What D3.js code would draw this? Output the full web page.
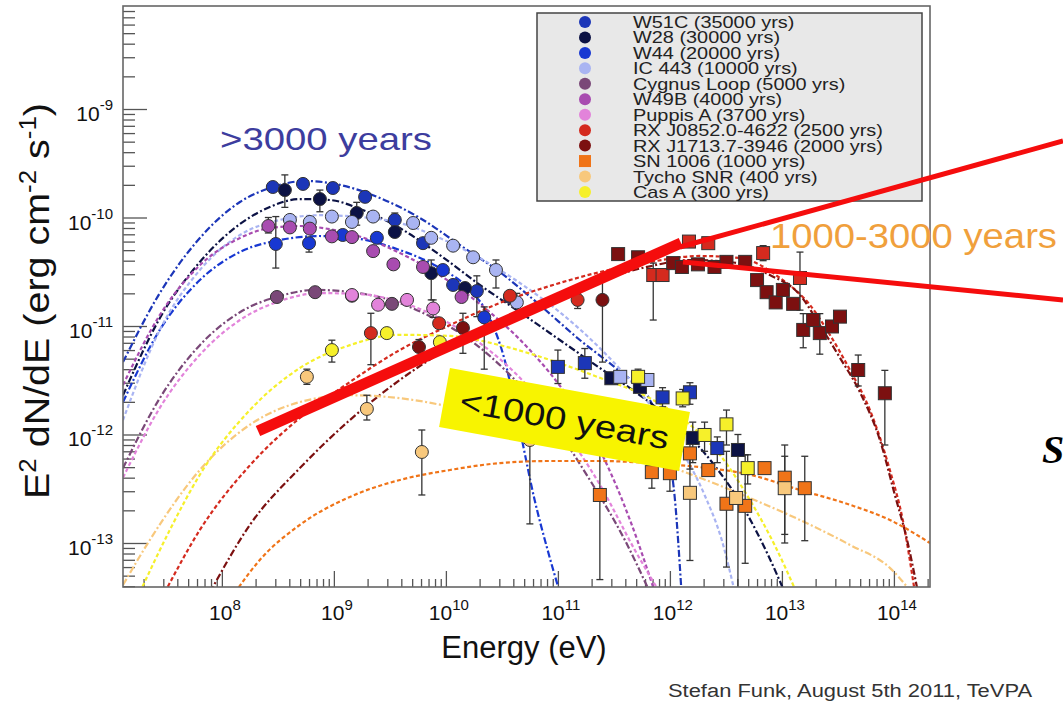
<!DOCTYPE html>
<html lang="en">
<head>
<meta charset="UTF-8">
<title>SNR spectra</title>
<script src="https://cdn.jsdelivr.net/npm/d3@7"></script>
<style>
  body { margin: 0; background: #fff; }
  text { font-family: "Liberation Sans", Arial, sans-serif; }
</style>
</head>
<body>
<div id="chart"></div>
<script>

// ---- data: [E (eV), E^2 dN/dE, errHigh, errLow] ----
const w51cGeV = [[2.85e8,1.91e-10],[5.3e8,2.04e-10],[9.8e8,1.87e-10],[1.9e9,1.55e-10],[3.5e9,9.5e-11,1.1e-10,8.2e-11],[6.25e9,5.8e-11],[1.16e10,2.39e-11],[1.89e10,2.1e-11,2.9e-11,1.22e-11],[3.73e10,1.85e-11]];
const w51cTeV = [[1.0e11,4.2e-12,6.0e-12,2.95e-12],[1.74e11,4.55e-12,6.2e-12,3.3e-12],[8.6e11,2.2e-12,2.7e-12,1.8e-12],[1.51e12,2.45e-12,3.0e-12,1.9e-12],[2.65e12,7.5e-13,9.5e-13,5.5e-13]];
const w51cModel = [[1.31e7,4.65e-12],[2.79e7,2.01e-11],[6.36e7,6.47e-11],[1.45e8,1.39e-10],[2.85e8,1.91e-10],[5.5e8,2.17e-10],[1.13e9,2.0e-10],[2.58e9,1.51e-10],[5.86e9,9.9e-11],[1.33e10,5.58e-11],[3.03e10,3.14e-11],[6.9e10,1.56e-11],[1.57e11,7.43e-12],[3.58e11,3.8e-12],[6.63e11,2.08e-12],[8.98e11,8.89e-13],[1.11e12,2.49e-13],[1.27e12,3.5e-14]];

const w28GeV = [[3.65e8,1.79e-10,2.47e-10,1.24e-10],[7.5e8,1.48e-10,1.79e-10,1.13e-10],[1.6e9,1.1e-10,1.38e-10,8.5e-11],[3.5e9,7.35e-11],[7.4e9,3.07e-11,4.06e-11,1.74e-11],[1.48e10,2.24e-11]];
const w28TeV = [[3.0e11,3.3e-12],[5.4e11,2.75e-12],[1.6e12,9.3e-13,1.3e-12,5.5e-13],[4.05e12,7.2e-13,1.0e-12,3.0e-14]];
const w28Model = [[1.31e7,2.3e-12],[2.79e7,1.18e-11],[6.36e7,3.89e-11],[1.45e8,8.7e-11],[2.68e8,1.25e-10],[4.97e8,1.48e-10],[9.2e8,1.45e-10],[1.71e9,1.2e-10],[3.88e9,8.0e-11],[8.84e9,4.51e-11],[2.01e10,2.39e-11],[4.58e10,1.34e-11],[1.04e11,7.43e-12],[2.37e11,4.1e-12],[5.4e11,2.3e-12],[1.23e12,1.16e-12],[2.5e12,5.2e-13],[4.67e12,2.01e-13],[7.5e12,7.8e-14],[1.06e13,3.5e-14]];

const w44GeV = [[3.03e8,5.7e-11,1.02e-10,3.42e-11],[6.0e8,5.8e-11,6.5e-11,4.8e-11],[1.2e9,6.9e-11],[2.42e9,6.5e-11],[9.4e9,3.28e-11],[2.2e10,1.2e-11,1.5e-11,4.0e-12]];
const w44Model = [[1.31e7,1.99e-12],[2.79e7,9.2e-12],[6.36e7,2.65e-11],[1.45e8,4.81e-11],[3.3e8,6.2e-11],[7.5e8,6.75e-11],[1.71e9,6.34e-11],[3.88e9,5.01e-11],[8.84e9,3.42e-11],[1.64e10,2.15e-11],[2.47e10,1.18e-11],[3.35e10,4.86e-12],[4.58e10,1.1e-12],[6.2e10,2.49e-13],[8.1e10,8.6e-14],[1.04e11,3.5e-14]];

const ic443GeV = [[4.05e8,9.5e-11],[6.1e8,9.1e-11],[9.6e8,1.02e-10],[1.45e9,9.1e-11],[2.24e9,1.02e-10],[5.1e9,8.9e-11],[7.4e9,6.5e-11],[1.16e10,5.5e-11],[1.75e10,4.3e-11],[2.8e10,3.28e-11,4.06e-11,2.24e-11],[4.3e10,1.65e-11,2.0e-11,1.3e-11]];
const ic443TeV = [[3.6e11,3.4e-12],[6.3e11,3.18e-12]];
const ic443Model = [[1.31e7,1.36e-12],[2.79e7,9.2e-12],[6.36e7,3.28e-11],[1.45e8,6.9e-11],[3.3e8,9.5e-11],[7.5e8,1.05e-10],[1.71e9,1.01e-10],[3.88e9,8.9e-11],[8.84e9,6.47e-11],[2.01e10,4.23e-11],[4.58e10,2.49e-11],[1.04e11,1.34e-11],[2.37e11,6.25e-12],[5.4e11,2.46e-12],[1.11e12,8.89e-13],[2.04e12,2.77e-13],[2.9e12,1.07e-13],[3.8e12,3.5e-14]];

const cygGeV = [[3.1e8,1.85e-11],[6.8e8,2.05e-11],[1.45e9,1.9e-11],[3.3e9,1.6e-11]];
const cygModel = [[1.31e7,4.9e-13],[2.79e7,2.16e-12],[6.36e7,6.66e-12],[1.45e8,1.34e-11],[3.3e8,1.89e-11],[6.8e8,2.15e-11],[1.39e9,2.06e-11],[3.16e9,1.74e-11],[7.2e9,1.23e-11],[1.64e10,7.43e-12],[3.73e10,3.55e-12],[8.5e10,1.36e-12],[1.93e11,3.81e-13],[3.95e11,1.07e-13],[6.63e11,3.5e-14]];

const w49bGeV = [[2.6e8,8.35e-11,1.0e-10,7.2e-11],[4.05e8,8.1e-11],[6.1e8,7.9e-11],[9.6e8,6.7e-11],[1.45e9,6.6e-11],[2.24e9,4.9e-11],[3.4e9,3.7e-11],[6.25e9,3.5e-11],[1.38e10,1.85e-11]];
const w49bModel = [[1.31e7,2.86e-12],[2.79e7,1.26e-11],[6.36e7,3.63e-11],[1.45e8,6.47e-11],[2.68e8,8.0e-11],[4.97e8,8.35e-11],[9.2e8,7.8e-11],[2.1e9,6.2e-11],[4.77e9,4.23e-11],[1.09e10,2.54e-11],[2.47e10,1.34e-11],[5.62e10,6.01e-12],[1.28e11,2.08e-12],[2.62e11,5.82e-13],[4.4e11,1.63e-13],[7.35e11,3.5e-14]];

const puppisGeV = [[1.45e9,1.93e-11,2.1e-11,1.75e-11],[2.48e9,1.57e-11],[4.5e9,1.74e-11],[7.7e9,1.45e-11,1.74e-11,1.2e-11]];
const puppisModel = [[1.31e7,4.0e-13],[2.79e7,1.76e-12],[6.36e7,5.43e-12],[1.45e8,1.135e-11],[3.3e8,1.7e-11],[7.5e8,2.01e-11],[1.71e9,1.97e-11],[3.88e9,1.67e-11],[8.84e9,1.18e-11],[2.01e10,6.96e-12],[4.58e10,3.33e-12],[1.04e11,1.23e-12],[2.37e11,3.45e-13],[4.87e11,8.6e-14],[8.1e11,3.5e-14]];

const velaJrGeV = [[2.14e9,8.6e-12,1.31e-11,4.4e-12],[8.7e9,1.06e-11],[3.73e10,1.9e-11,2.1e-11,1.7e-11],[1.5e11,1.74e-11,2.0e-11,1.45e-11]];
const velaJrTeV = [[7.1e11,2.95e-11,3.8e-11,1.135e-11],[8.6e11,2.95e-11],[1.48e12,6.0e-11],[2.2e12,5.8e-11],[6.8e12,4.7e-11,5.5e-11,4.0e-11],[1.45e13,2.77e-11,4.8e-11,1.4e-11]];
const velaJrModel = [[3.09e7,3.5e-14],[6.36e7,1.32e-13],[1.78e8,5.2e-13],[4.97e8,1.42e-12],[1.39e9,3.05e-12],[3.88e9,6.01e-12],[1.09e10,1.02e-11],[3.03e10,1.63e-11],[8.5e10,2.34e-11],[2.37e11,3.14e-11],[6.63e11,3.89e-11],[1.85e12,4.42e-11],[4.22e12,4.23e-11],[9.6e12,2.77e-11],[1.78e13,1.56e-11],[2.68e13,8.3e-12],[4.05e13,3.93e-12],[6.11e13,1.68e-12],[9.2e13,4.71e-13],[1.2e14,1.63e-13],[1.54e14,3.5e-14]];

const rxj1713GeV = [[5.75e9,6.4e-12,7.5e-12,4.86e-12],[1.42e10,9.6e-12,1.31e-11,5.6e-12],[2.5e11,1.74e-11,2.75e-11,4.65e-12]];
const rxj1713TeV = [[3.45e11,4.6e-11],[5.2e11,4.3e-11],[1.07e12,3.8e-11],[1.28e12,3.5e-11],[1.78e12,3.7e-11],[2.5e12,3.5e-11],[3.2e12,3.9e-11],[4.7e12,3.9e-11],[6.0e12,2.65e-11],[7.3e12,2.05e-11],[8.8e12,1.65e-11],[1.02e13,2.15e-11],[1.26e13,1.6e-11],[1.55e13,9.2e-12,1.3e-11,6.3e-12],[1.9e13,1.135e-11],[2.18e13,8.6e-12,1.3e-11,5.5e-12],[2.8e13,9.9e-12],[3.3e13,1.22e-11],[4.8e13,3.93e-12,5.4e-12,2.8e-12],[8.3e13,2.4e-12,3.9e-12,8.0e-13]];
const rxj1713Model = [[7.82e7,3.5e-14],[1.78e8,1.47e-13],[4.97e8,4.9e-13],[1.39e9,1.36e-12],[3.88e9,3.18e-12],[1.09e10,6.39e-12],[3.03e10,1.135e-11],[8.5e10,1.81e-11],[2.37e11,2.65e-11],[6.63e11,3.55e-11],[1.51e12,4.06e-11],[3.43e12,3.89e-11],[7.8e12,2.95e-11],[1.45e13,1.93e-11],[2.18e13,1.02e-11],[3.3e13,5.09e-12],[4.97e13,2.46e-12],[7.5e13,8.89e-13],[1.02e14,2.77e-13],[1.31e14,1.07e-13],[1.64e14,3.5e-14]];

const sn1006TeV = [[2.37e11,2.77e-13,1.1e-12,4.6e-14],[6.9e11,4.5e-13,5.8e-13,3.2e-13],[1.0e12,4.4e-13,5.5e-13,3.0e-13],[1.51e12,6.7e-13,8.9e-13,4.8e-13],[2.2e12,4.7e-13],[3.2e12,2.3e-13,7.0e-13,6.0e-14],[4.7e12,2.2e-13,6.5e-13,6.5e-14],[7.0e12,4.9e-13],[1.06e13,4.0e-13,8.0e-13,1.0e-13],[1.6e13,3.2e-13,6.3e-13,1.05e-13]];
const sn1006Model = [[1.31e8,3.5e-14],[2.18e8,6.97e-14],[4.97e8,1.47e-13],[1.39e9,2.66e-13],[3.88e9,3.81e-13],[1.09e10,4.71e-13],[3.03e10,5.45e-13],[8.5e10,5.7e-13],[2.37e11,5.7e-13],[6.63e11,5.45e-13],[1.85e12,5.0e-13],[5.18e12,4.26e-13],[1.45e13,3.08e-13],[4.05e13,2.25e-13],[9.2e13,1.63e-13],[2.1e14,1.0e-13]];

const tychoGeV = [[5.74e8,3.4e-12,4.0e-12,2.9e-12],[1.97e9,1.72e-12,2.3e-12,1.36e-12],[6.1e9,6.9e-13,1.1e-12,2.77e-13],[5.62e10,8.9e-13,1.2e-12,1.5e-13]];
const tychoTeV = [[1.51e12,2.9e-13,7.2e-13,6.9e-14],[3.9e12,2.6e-13],[1.06e13,3.2e-13,6.3e-13,1.2e-13]];
const tychoModel = [[1.31e7,4.1e-14],[2.28e7,1.07e-13],[6.36e7,4.71e-13],[1.78e8,1.23e-12],[4.97e8,1.99e-12],[1.39e9,2.3e-12],[3.88e9,2.16e-12],[1.09e10,1.8e-12],[3.03e10,1.36e-12],[8.5e10,1.05e-12],[2.37e11,8.0e-13],[6.63e11,5.82e-13],[1.85e12,4.0e-13],[5.18e12,2.6e-13],[1.45e13,1.63e-13],[4.05e13,9.6e-14],[9.2e13,5.9e-14],[1.44e14,3.5e-14]];

const casAGeV = [[9.6e8,6.0e-12,7.4e-12,4.65e-12],[2.97e9,8.6e-12],[8.84e9,7.1e-12]];
const casATeV = [[5.2e11,3.4e-12,4.0e-12,2.9e-12],[1.3e12,2.15e-12,2.6e-12,1.8e-12],[2.04e12,9.9e-13,1.3e-12,7.0e-13],[3.2e12,1.24e-12,1.68e-12,8.0e-13],[4.95e12,4.9e-13,6.5e-13,3.5e-13]];
const casAModel = [[1.85e7,3.5e-14],[3.43e7,1.32e-13],[6.36e7,4.26e-13],[1.78e8,1.68e-12],[4.97e8,4.1e-12],[1.39e9,6.66e-12],[3.88e9,8.3e-12],[1.09e10,8.1e-12],[3.03e10,6.66e-12],[8.5e10,4.86e-12],[2.37e11,3.33e-12],[6.63e11,2.16e-12],[1.51e12,1.23e-12],[2.79e12,6.5e-13],[5.18e12,2.49e-13],[8.6e12,9.6e-14],[1.35e13,3.5e-14]];

// legend labels
const legendNames = ["W51C (35000 yrs)","W28 (30000 yrs)","W44 (20000 yrs)","IC 443 (10000 yrs)","Cygnus Loop (5000 yrs)","W49B (4000 yrs)","Puppis A (3700 yrs)","RX J0852.0-4622 (2500 yrs)","RX J1713.7-3946 (2000 yrs)","SN 1006 (1000 yrs)","Tycho SNR (400 yrs)","Cas A (300 yrs)"];

// axis tick labels (exponents)
const xTickVals = [1e8,1e9,1e10,1e11,1e12,1e13,1e14];
const xTickExp = ["8","9","10","11","12","13","14"];
const yTickVals = [1e-9,1e-10,1e-11,1e-12,1e-13];
const yTickExp = ["-9","-10","-11","-12","-13"];

// ---- setup ----
const dashA = "4,2.5";          // dotted-ish
const dashB = "7,2.5,2,2.5";    // dash-dot

const series = [
  {name: legendNames[0], color:"#1c36b8", gev:w51cGeV, tev:w51cTeV, model:w51cModel, dash:dashB},
  {name: legendNames[1], color:"#0c1244", gev:w28GeV, tev:w28TeV, model:w28Model, dash:dashB},
  {name: legendNames[2], color:"#1838d2", gev:w44GeV, tev:[], model:w44Model, dash:dashB},
  {name: legendNames[3], color:"#a9b4f2", gev:ic443GeV, tev:ic443TeV, model:ic443Model, dash:dashA},
  {name: legendNames[4], color:"#7a4878", gev:cygGeV, tev:[], model:cygModel, dash:dashB},
  {name: legendNames[5], color:"#a84cb0", gev:w49bGeV, tev:[], model:w49bModel, dash:dashA},
  {name: legendNames[6], color:"#e283da", gev:puppisGeV, tev:[], model:puppisModel, dash:dashA},
  {name: legendNames[7], color:"#d42a1e", gev:velaJrGeV, tev:velaJrTeV, model:velaJrModel, dash:dashA},
  {name: legendNames[8], color:"#7c1010", gev:rxj1713GeV, tev:rxj1713TeV, model:rxj1713Model, dash:dashB},
  {name: legendNames[9], color:"#f07418", gev:[], tev:sn1006TeV, model:sn1006Model, dash:dashA, square:true},
  {name: legendNames[10], color:"#f8c87c", gev:tychoGeV, tev:tychoTeV, model:tychoModel, dash:dashB},
  {name: legendNames[11], color:"#f6f02a", gev:casAGeV, tev:casATeV, model:casAModel, dash:dashA}
];

const W = 1063, H = 703;
const pl = 123, pr = 930, pt = 6, pb = 587;

const svg = d3.select("#chart").append("svg")
  .attr("width", W).attr("height", H)
  .style("display", "block");

svg.append("rect").attr("width", W).attr("height", H).attr("fill", "#fff");

const x = d3.scaleLog().domain([1.31e7, 2.1e14]).range([pl, pr]);
const y = d3.scaleLog().domain([3.93e-14, 8.9e-9]).range([pb, pt]);

svg.append("defs").append("clipPath").attr("id", "clip")
  .append("rect").attr("x", pl).attr("y", pt).attr("width", pr - pl).attr("height", pb - pt);

// minor ticks
function minorTicks(lo, hi) {
  const out = [];
  for (let p = Math.floor(Math.log10(lo)); p <= Math.ceil(Math.log10(hi)); p++) {
    for (let m = 2; m <= 9; m++) {
      const v = m * Math.pow(10, p);
      if (v > lo && v < hi) out.push(v);
    }
  }
  return out;
}

const axisColor = "#555";

// x axis ticks (pointing up into the plot)
const gx = svg.append("g").attr("transform", "translate(0," + pb + ")");
gx.append("g").call(d3.axisBottom(x).tickValues(minorTicks(1.31e7, 2.1e14)).tickSize(-8).tickFormat(""));
gx.append("g").call(d3.axisBottom(x).tickValues(xTickVals).tickSize(-16).tickFormat(""));
gx.selectAll(".domain").remove();
gx.selectAll("line").attr("stroke", axisColor).attr("stroke-width", 1.3);

// y axis ticks (pointing right into the plot)
const gy = svg.append("g").attr("transform", "translate(" + pl + ",0)");
gy.append("g").call(d3.axisLeft(y).tickValues(minorTicks(3.93e-14, 8.9e-9)).tickSize(-12).tickFormat(""));
gy.append("g").call(d3.axisLeft(y).tickValues(yTickVals).tickSize(-24).tickFormat(""));
gy.selectAll(".domain").remove();
gy.selectAll("line").attr("stroke", axisColor).attr("stroke-width", 1.3);

// tick labels
xTickVals.forEach((v, i) => {
  const t = svg.append("text")
    .attr("x", x(v) + 3).attr("y", 620)
    .attr("text-anchor", "middle")
    .attr("font-size", 21).attr("fill", "#111");
  t.append("tspan").text("10");
  t.append("tspan").attr("dy", -10).attr("font-size", 15).text(xTickExp[i]);
});
yTickVals.forEach((v, i) => {
  const t = svg.append("text")
    .attr("x", 113).attr("y", y(v) + 12)
    .attr("text-anchor", "end")
    .attr("font-size", 21).attr("fill", "#111");
  t.append("tspan").text("10");
  t.append("tspan").attr("dy", -11).attr("font-size", 15).text(yTickExp[i]);
});

// axis titles
svg.append("text")
  .attr("x", 524).attr("y", 658)
  .attr("text-anchor", "middle")
  .attr("font-size", 31).attr("fill", "#111")
  .text("Energy (eV)");

const yt = svg.append("text")
  .attr("transform", "translate(49,301) rotate(-90)")
  .attr("text-anchor", "middle")
  .attr("font-size", 35).attr("fill", "#111")
  .attr("textLength", 396).attr("lengthAdjust", "spacingAndGlyphs");
yt.append("tspan").text("E");
yt.append("tspan").attr("dy", -13).attr("font-size", 23).text("2");
yt.append("tspan").attr("dy", 13).text(" dN/dE (erg cm");
yt.append("tspan").attr("dy", -13).attr("font-size", 23).text("-2");
yt.append("tspan").attr("dy", 13).text(" s");
yt.append("tspan").attr("dy", -13).attr("font-size", 23).text("-1");
yt.append("tspan").attr("dy", 13).text(")");

// model curves
const plot = svg.append("g").attr("clip-path", "url(#clip)");
const line = d3.line()
  .x(d => x(d[0])).y(d => y(d[1]))
  .curve(d3.curveMonotoneX);

series.forEach(s => {
  plot.append("path")
    .datum(s.model)
    .attr("d", line)
    .attr("fill", "none")
    .attr("stroke", s.color)
    .attr("stroke-width", 2.2)
    .attr("stroke-dasharray", s.dash);
});

// error bars + markers
function drawErr(g, pts) {
  const e = pts.filter(d => d.length > 2);
  g.selectAll(null).data(e).enter().append("line")
    .attr("x1", d => x(d[0])).attr("x2", d => x(d[0]))
    .attr("y1", d => y(d[2])).attr("y2", d => y(Math.max(d[3], 3e-14)))
    .attr("stroke", "#333").attr("stroke-width", 1.3);
  [2, 3].forEach(k => {
    g.selectAll(null).data(e).enter().append("line")
      .attr("x1", d => x(d[0]) - 3.5).attr("x2", d => x(d[0]) + 3.5)
      .attr("y1", d => y(d[k])).attr("y2", d => y(d[k]))
      .attr("stroke", "#333").attr("stroke-width", 1.3);
  });
}

const pts = svg.append("g").attr("clip-path", "url(#clip)");
series.forEach(s => {
  drawErr(pts, s.gev);
  drawErr(pts, s.tev);
});
series.forEach(s => {
  pts.selectAll(null).data(s.gev).enter().append("circle")
    .attr("cx", d => x(d[0])).attr("cy", d => y(d[1]))
    .attr("r", 6.5)
    .attr("fill", s.color).attr("stroke", "#333").attr("stroke-width", 1);
  pts.selectAll(null).data(s.tev).enter().append("rect")
    .attr("x", d => x(d[0]) - 6.5).attr("y", d => y(d[1]) - 6.5)
    .attr("width", 13).attr("height", 13)
    .attr("fill", s.color).attr("stroke", "#333").attr("stroke-width", 1);
});

// frame
svg.append("rect")
  .attr("x", pl).attr("y", pt).attr("width", pr - pl).attr("height", pb - pt)
  .attr("fill", "none").attr("stroke", "#666").attr("stroke-width", 1.6);

// legend
const lg = svg.append("g");
lg.append("rect")
  .attr("x", 537).attr("y", 13).attr("width", 385).attr("height", 188)
  .attr("fill", "#e8e8e8").attr("stroke", "#444").attr("stroke-width", 1.5);
series.forEach((s, i) => {
  const ly = 22 + i * 15.45;
  if (s.square) {
    lg.append("rect").attr("x", 579).attr("y", ly - 6).attr("width", 12).attr("height", 12)
      .attr("fill", s.color);
  } else {
    lg.append("circle").attr("cx", 585).attr("cy", ly).attr("r", 6).attr("fill", s.color);
  }
  lg.append("text")
    .attr("transform", "translate(633," + (ly + 6) + ") scale(1.17,1)")
    .attr("font-size", 17).attr("fill", "#222")
    .text(s.name);
});

// annotations
svg.append("text")
  .attr("x", 220).attr("y", 150)
  .attr("font-size", 32).attr("fill", "#3d3d9e")
  .attr("textLength", 212).attr("lengthAdjust", "spacingAndGlyphs")
  .text(">3000 years");

svg.append("text")
  .attr("x", 770).attr("y", 248)
  .attr("font-size", 35).attr("fill", "#f0a03c")
  .attr("textLength", 287).attr("lengthAdjust", "spacingAndGlyphs")
  .text("1000-3000 years");

const box = svg.append("g").attr("transform", "translate(564.5,419.5) rotate(10.4)");
box.append("rect")
  .attr("x", -122).attr("y", -30).attr("width", 244).attr("height", 60)
  .attr("fill", "#f8f400");
box.append("text")
  .attr("x", 0).attr("y", 11)
  .attr("text-anchor", "middle")
  .attr("font-size", 32).attr("fill", "#111")
  .attr("textLength", 212).attr("lengthAdjust", "spacingAndGlyphs")
  .text("<1000 years");

// red trend lines
const red = "#f50d0d";
svg.append("line").attr("x1", 258).attr("y1", 431).attr("x2", 681).attr("y2", 243)
  .attr("stroke", red).attr("stroke-width", 11);
svg.append("line").attr("x1", 680).attr("y1", 247).attr("x2", 1063).attr("y2", 141)
  .attr("stroke", red).attr("stroke-width", 5);
svg.append("line").attr("x1", 683).attr("y1", 262).attr("x2", 1063).attr("y2", 300)
  .attr("stroke", red).attr("stroke-width", 5);

// partly visible serif letter at the right edge
svg.append("text")
  .attr("x", 1042).attr("y", 463)
  .style("font-family", "'Liberation Serif', 'DejaVu Serif', serif")
  .style("font-style", "italic").style("font-weight", "bold")
  .attr("font-size", 40).attr("fill", "#000")
  .text("S");

svg.append("text")
  .attr("x", 668).attr("y", 697)
  .attr("font-size", 18).attr("fill", "#333")
  .attr("textLength", 364).attr("lengthAdjust", "spacingAndGlyphs")
  .text("Stefan Funk, August 5th 2011, TeVPA");

</script>
</body>
</html>
